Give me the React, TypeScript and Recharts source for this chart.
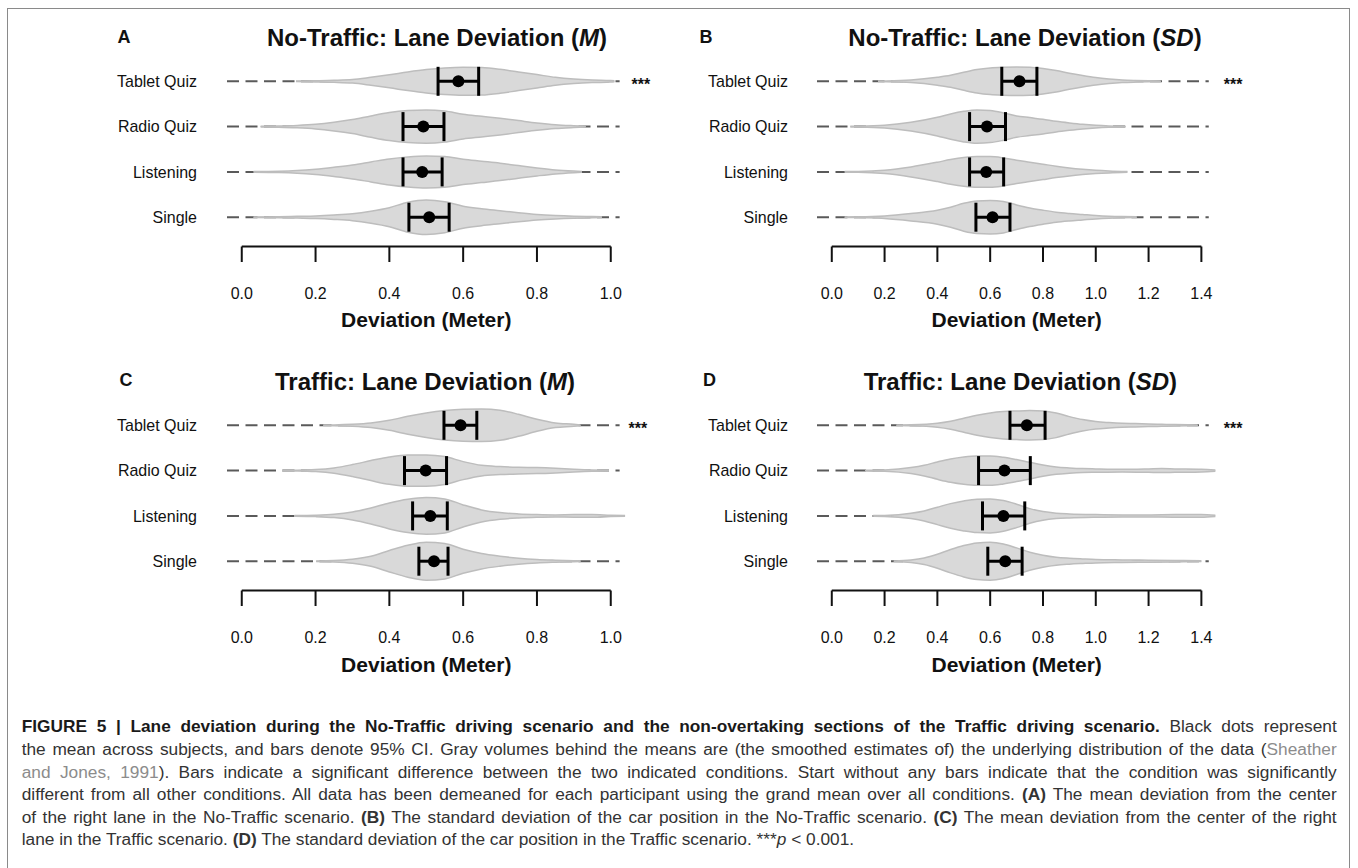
import React from "react";
import { ComposedChart, Area, Scatter, ErrorBar, XAxis, YAxis, ReferenceLine } from "recharts";

const FONT = "'Liberation Sans', Arial, Helvetica, sans-serif";

const ROWS = ["Tablet Quiz", "Radio Quiz", "Listening", "Single"];
const ROW_Y = [4, 3, 2, 1];

const TICKS_M = [0, 0.2, 0.4, 0.6, 0.8, 1.0];
const TICKS_SD = [0, 0.2, 0.4, 0.6, 0.8, 1.0, 1.2, 1.4];

// A: No-Traffic, mean
const A_MEAN = [0.587, 0.492, 0.489, 0.508];
const A_LOW = [0.532, 0.437, 0.437, 0.453];
const A_HIGH = [0.642, 0.548, 0.543, 0.562];
// violins: [deviation, half width]
const A_TABLET = [[0.147, 0.3], [0.2, 0.6], [0.25, 1.0], [0.3, 1.8], [0.35, 4], [0.4, 6.5], [0.45, 9.3], [0.5, 11.7], [0.55, 13.3], [0.6, 14], [0.65, 13.7], [0.7, 12], [0.75, 9.3], [0.8, 6.7], [0.85, 4], [0.9, 2.3], [0.95, 1.3], [1.0, 0.8], [1.01, 0.5]];
const A_RADIO = [[0.051, 0.3], [0.1, 0.6], [0.15, 1.2], [0.2, 2.3], [0.25, 4.3], [0.3, 7], [0.35, 10.7], [0.4, 14], [0.45, 16], [0.5, 16.7], [0.55, 15.5], [0.6, 12.3], [0.65, 10.3], [0.7, 8.3], [0.75, 6], [0.8, 3.7], [0.85, 1.9], [0.9, 0.9], [0.932, 0.4]];
const A_LISTEN = [[0.032, 0.3], [0.1, 0.6], [0.15, 1.3], [0.2, 2.7], [0.25, 4.7], [0.3, 7], [0.35, 10], [0.4, 13], [0.45, 15], [0.5, 16], [0.55, 15.3], [0.6, 12.7], [0.65, 10.7], [0.7, 8.7], [0.75, 6.3], [0.8, 4], [0.85, 2], [0.9, 0.8], [0.922, 0.4]];
const A_SINGLE = [[0.032, 0.3], [0.1, 0.5], [0.15, 0.9], [0.2, 1.3], [0.25, 2.2], [0.3, 3.5], [0.35, 6], [0.4, 9.5], [0.45, 15], [0.5, 17.3], [0.55, 15.5], [0.6, 11], [0.65, 8.5], [0.7, 6.5], [0.75, 4.5], [0.8, 2.8], [0.85, 1.7], [0.9, 1], [0.95, 0.6], [0.976, 0.4]];

// B: No-Traffic, SD
const B_MEAN = [0.711, 0.588, 0.585, 0.609];
const B_LOW = [0.644, 0.522, 0.522, 0.546];
const B_HIGH = [0.777, 0.658, 0.651, 0.675];
const B_TABLET = [[0.175, 0.3], [0.2, 0.4], [0.3, 1.3], [0.4, 4], [0.45, 6], [0.5, 9], [0.55, 11.7], [0.6, 13.3], [0.65, 14], [0.7, 14.3], [0.75, 14], [0.8, 12.7], [0.85, 10.7], [0.9, 8], [0.95, 5.7], [1.0, 3.7], [1.05, 2.3], [1.1, 1.3], [1.15, 0.8], [1.2, 0.5], [1.246, 0.4]];
const B_RADIO = [[0.07, 0.3], [0.1, 0.4], [0.2, 1.3], [0.3, 4.3], [0.4, 9.3], [0.45, 12.7], [0.5, 15.3], [0.55, 16.7], [0.6, 16], [0.65, 13.7], [0.7, 10.7], [0.75, 9], [0.8, 7.3], [0.85, 5.3], [0.9, 3.7], [0.95, 2.3], [1.0, 1.3], [1.05, 0.7], [1.113, 0.4]];
const B_LISTEN = [[0.049, 0.3], [0.1, 0.4], [0.2, 1.7], [0.3, 5], [0.4, 9.7], [0.45, 12.3], [0.5, 14.3], [0.55, 15.3], [0.6, 15.3], [0.65, 14], [0.7, 11.7], [0.75, 9.7], [0.8, 7.7], [0.85, 5.7], [0.9, 4], [0.95, 2.7], [1.0, 1.7], [1.05, 1], [1.12, 0.4]];
const B_SINGLE = [[0.049, 0.3], [0.1, 0.4], [0.2, 1.3], [0.3, 3.7], [0.4, 7], [0.45, 10], [0.5, 14], [0.55, 16.3], [0.6, 16.7], [0.65, 15.7], [0.7, 12.3], [0.75, 9.3], [0.8, 7], [0.85, 5], [0.9, 3.7], [0.95, 2.7], [1.0, 1.7], [1.05, 1], [1.1, 0.6], [1.155, 0.4]];

// C: Traffic, mean
const C_MEAN = [0.593, 0.4985, 0.511, 0.521];
const C_LOW = [0.548, 0.441, 0.463, 0.48];
const C_HIGH = [0.637, 0.555, 0.557, 0.559];
const C_TABLET = [[0.221, 0.3], [0.25, 0.4], [0.3, 1], [0.35, 2.3], [0.4, 5], [0.45, 9], [0.5, 12.3], [0.55, 14.7], [0.6, 16], [0.65, 16.3], [0.7, 15], [0.75, 11], [0.8, 6], [0.85, 2.3], [0.9, 1], [0.918, 0.4]];
const C_RADIO = [[0.109, 0.3], [0.15, 0.4], [0.2, 1], [0.25, 2.7], [0.3, 6], [0.35, 10], [0.4, 13.7], [0.45, 15.7], [0.5, 15.7], [0.55, 14], [0.6, 9], [0.65, 5.3], [0.7, 4], [0.75, 3.3], [0.8, 3], [0.85, 2.3], [0.9, 1.3], [0.95, 0.6], [0.995, 0.4]];
const C_LISTEN = [[0.143, 0.3], [0.2, 0.7], [0.25, 1.7], [0.3, 4], [0.35, 8], [0.4, 13], [0.45, 16.7], [0.5, 18.3], [0.55, 17], [0.6, 11], [0.65, 6], [0.7, 3.3], [0.75, 2], [0.8, 1.3], [0.85, 1], [0.9, 1.3], [0.95, 1.3], [1.0, 0.7], [1.039, 0.4]];
const C_SINGLE = [[0.2015, 0.3], [0.25, 0.7], [0.3, 2], [0.35, 5], [0.4, 10.7], [0.45, 16], [0.5, 19], [0.55, 17.7], [0.6, 12], [0.65, 7.7], [0.7, 5], [0.75, 3], [0.8, 1.7], [0.85, 1], [0.9, 0.5], [0.918, 0.4]];

// D: Traffic, SD
const D_MEAN = [0.739, 0.654, 0.65, 0.657];
const D_LOW = [0.675, 0.556, 0.571, 0.591];
const D_HIGH = [0.808, 0.752, 0.731, 0.721];
const D_TABLET = [[0.245, 0.3], [0.3, 0.5], [0.4, 2], [0.45, 4], [0.5, 7], [0.55, 10], [0.6, 12.3], [0.65, 13.7], [0.7, 14.3], [0.75, 14.7], [0.8, 14.3], [0.85, 12.3], [0.9, 8.7], [0.95, 5.7], [1.0, 3.7], [1.05, 2.7], [1.1, 2], [1.15, 1.7], [1.2, 1.3], [1.25, 1], [1.3, 0.7], [1.35, 0.5], [1.386, 0.4]];
const D_RADIO = [[0.126, 0.3], [0.2, 0.7], [0.3, 3], [0.35, 5.3], [0.4, 8.7], [0.45, 11.7], [0.5, 13.7], [0.55, 14.7], [0.6, 14.7], [0.65, 13.3], [0.7, 11], [0.75, 8.3], [0.8, 5.7], [0.85, 3.7], [0.9, 2.7], [0.95, 2], [1.0, 1.7], [1.1, 1.3], [1.2, 1.7], [1.25, 2], [1.3, 1.7], [1.4, 1.3], [1.453, 0.6]];
const D_LISTEN = [[0.157, 0.3], [0.2, 0.5], [0.3, 2.7], [0.35, 5], [0.4, 8.7], [0.45, 12.3], [0.5, 15], [0.55, 16.7], [0.6, 17], [0.65, 15.3], [0.7, 11.7], [0.75, 7.3], [0.8, 4.3], [0.85, 2.7], [0.9, 2], [1.0, 1.3], [1.1, 1], [1.2, 1], [1.3, 1.3], [1.4, 1.3], [1.453, 0.6]];
const D_SINGLE = [[0.235, 0.3], [0.3, 1.3], [0.35, 3.3], [0.4, 7], [0.45, 11.7], [0.5, 15.7], [0.55, 18.3], [0.6, 19], [0.65, 17.3], [0.7, 13.3], [0.75, 9], [0.8, 6], [0.85, 4], [0.9, 3], [0.95, 2.3], [1.0, 1.7], [1.1, 1.3], [1.2, 1], [1.3, 0.7], [1.4, 0.4]];

// layout
const ROW_PX = 45.3;
const Y_DOMAIN: [number, number] = [0.353, 4.647];
const Y_AXIS_W = 130;
const TOP_PAD = 40;
const RIGHT_PAD = 60;
const X_AXIS_H = 70;

type PanelSpec = {
  x0: number;
  ppu: number;
  domain: [number, number];
  topRow: number;
  ticks: number[];
  dashEnd: number;
  starOffset: number;
  labelGap: number;
  violins: number[][][];
  mean: number[];
  low: number[];
  high: number[];
};

const PANELS: PanelSpec[] = [
  { x0: 241.7, ppu: 369, domain: [-0.04, 1.04], topRow: 81.3, ticks: TICKS_M, dashEnd: 1.024, starOffset: 12, labelGap: 30, violins: [A_TABLET, A_RADIO, A_LISTEN, A_SINGLE], mean: A_MEAN, low: A_LOW, high: A_HIGH },
  { x0: 831.7, ppu: 264, domain: [-0.056, 1.456], topRow: 81.3, ticks: TICKS_SD, dashEnd: 1.428, starOffset: 15, labelGap: 29, violins: [B_TABLET, B_RADIO, B_LISTEN, B_SINGLE], mean: B_MEAN, low: B_LOW, high: B_HIGH },
  { x0: 241.7, ppu: 369, domain: [-0.04, 1.04], topRow: 425.8, ticks: TICKS_M, dashEnd: 1.024, starOffset: 9, labelGap: 30, violins: [C_TABLET, C_RADIO, C_LISTEN, C_SINGLE], mean: C_MEAN, low: C_LOW, high: C_HIGH },
  { x0: 831.7, ppu: 264, domain: [-0.056, 1.456], topRow: 425.8, ticks: TICKS_SD, dashEnd: 1.428, starOffset: 15, labelGap: 29, violins: [D_TABLET, D_RADIO, D_LISTEN, D_SINGLE], mean: D_MEAN, low: D_LOW, high: D_HIGH },
];

function buildTable(violins: number[][][]) {
  const rows = new Map<number, any>();
  violins.forEach((v, i) =>
    v.forEach(([x, w]) => {
      const r = rows.get(x) ?? { x };
      const hw = w / ROW_PX;
      r["v" + i] = [ROW_Y[i] - hw, ROW_Y[i] + hw];
      rows.set(x, r);
    })
  );
  return [...rows.values()].sort((a, b) => a.x - b.x);
}

const AxisTick = (props: any) => {
  const { x, y, payload } = props;
  return (
    <g>
      <line x1={x} x2={x} y1={y} y2={y + 15.5} stroke="#111" strokeWidth={2} />
      <text x={x} y={y + 52} textAnchor="middle" fontSize={16} fontFamily={FONT} fill="#111">
        {Number(payload.value).toFixed(1)}
      </text>
    </g>
  );
};

const Stars = (offset: number) => (props: any) => {
  const vb = props.viewBox || {};
  return (
    <text x={vb.x + vb.width + offset} y={vb.y + 9} fontSize={16} fontWeight={700} fontFamily={FONT} fill="#111">
      ***
    </text>
  );
};

const Dot = (props: any) => <circle cx={props.cx} cy={props.cy} r={6} fill="#000" />;

function Panel({ spec }: { spec: PanelSpec }) {
  const [d0, d1] = spec.domain;
  const plotLeft = spec.x0 + d0 * spec.ppu;
  const plotW = (d1 - d0) * spec.ppu;
  const plotTop = spec.topRow - (Y_DOMAIN[1] - 4) * ROW_PX;
  const plotH = (Y_DOMAIN[1] - Y_DOMAIN[0]) * ROW_PX;
  const table = buildTable(spec.violins);
  const means = ROW_Y.map((y, i) => ({
    x: spec.mean[i],
    y,
    ci: [spec.mean[i] - spec.low[i], spec.high[i] - spec.mean[i]],
  }));
  const lastTick = spec.ticks[spec.ticks.length - 1];

  return (
    <div style={{ position: "absolute", left: plotLeft - Y_AXIS_W, top: plotTop - TOP_PAD }}>
      <ComposedChart
        width={Y_AXIS_W + plotW + RIGHT_PAD}
        height={TOP_PAD + plotH + X_AXIS_H}
        data={table}
        margin={{ top: TOP_PAD, right: RIGHT_PAD, bottom: 0, left: 0 }}
      >
        <XAxis
          type="number"
          dataKey="x"
          domain={spec.domain}
          ticks={spec.ticks}
          interval={0}
          allowDataOverflow
          axisLine={false}
          tickLine={false}
          tickSize={0}
          tickMargin={0}
          height={X_AXIS_H}
          tick={AxisTick}
        />
        <YAxis
          type="number"
          domain={Y_DOMAIN}
          ticks={ROW_Y}
          interval={0}
          allowDataOverflow
          axisLine={false}
          tickLine={false}
          tickSize={0}
          tickMargin={spec.labelGap}
          width={Y_AXIS_W}
          tickFormatter={(v: number) => ROWS[4 - v]}
          tick={{ fontSize: 16, fill: "#111", fontFamily: FONT }}
        />
        {ROW_Y.map((y, i) => (
          <ReferenceLine
            key={"dash" + i}
            segment={[{ x: d0, y }, { x: spec.dashEnd, y }]}
            stroke="#5a5a5a"
            strokeWidth={2}
            strokeDasharray="12 6.5"
            ifOverflow="visible"
            zIndex={10}
            label={i === 0 ? Stars(spec.starOffset) : undefined}
          />
        ))}
        {spec.violins.map((_, i) => (
          <Area
            key={"v" + i}
            dataKey={"v" + i}
            type="monotone"
            fill="#d9d9d9"
            fillOpacity={1}
            stroke="#bdbdbd"
            strokeWidth={1.5}
            connectNulls
            dot={false}
            activeDot={false}
            zIndex={100}
            isAnimationActive={false}
          />
        ))}
        <ReferenceLine
          segment={[{ x: 0, y: Y_DOMAIN[0] }, { x: lastTick, y: Y_DOMAIN[0] }]}
          stroke="#111"
          strokeWidth={2}
          ifOverflow="visible"
          zIndex={500}
        />
        <Scatter data={means} dataKey="y" shape={Dot} zIndex={600} isAnimationActive={false}>
          <ErrorBar dataKey="ci" direction="x" width={14.5} strokeWidth={3} stroke="#000" isAnimationActive={false} />
        </Scatter>
      </ComposedChart>
    </div>
  );
}

function Text({ cx, cy, size, children }: { cx: number; cy: number; size: number; children: React.ReactNode }) {
  return (
    <div
      style={{
        position: "absolute",
        left: cx - 300,
        width: 600,
        top: cy - 20,
        height: 40,
        lineHeight: "40px",
        textAlign: "center",
        fontSize: size,
        fontWeight: 700,
        fontFamily: FONT,
        color: "#111",
        whiteSpace: "nowrap",
      }}
    >
      {children}
    </div>
  );
}

const GRAY = { color: "#8c8c8c" };

function CaptionLine({ i, last, children }: { i: number; last?: boolean; children: React.ReactNode }) {
  return (
    <div
      style={{
        position: "absolute",
        left: 21.7,
        width: 1315,
        top: 726.7 + i * 22.6 - 11.3,
        height: 22.6,
        lineHeight: "22.6px",
        fontSize: 17.3,
        fontFamily: FONT,
        color: "#333",
        whiteSpace: "nowrap",
        textAlign: "left",
        textAlignLast: last ? "left" : "justify",
      }}
    >
      {children}
    </div>
  );
}

export default function App() {
  return (
    <div style={{ position: "absolute", left: 0, top: 0, width: 1358, height: 868, overflow: "hidden", background: "#fff" }}>
      <div
        style={{
          position: "absolute",
          left: 7,
          top: 7.5,
          width: 1343,
          height: 900,
          borderTop: "1.5px solid #8a8a8a",
          borderLeft: "1.5px solid #8a8a8a",
          borderRight: "1.5px solid #8a8a8a",
          boxSizing: "border-box",
        }}
      />
      {PANELS.map((p, i) => (
        <Panel key={i} spec={p} />
      ))}

      <Text cx={124} cy={36.7} size={18}>A</Text>
      <Text cx={706} cy={36.7} size={18}>B</Text>
      <Text cx={126} cy={380} size={18}>C</Text>
      <Text cx={709.6} cy={380} size={18}>D</Text>

      <Text cx={437} cy={38.3} size={24}>No-Traffic: Lane Deviation (<i>M</i>)</Text>
      <Text cx={1025} cy={38.3} size={24}>No-Traffic: Lane Deviation (<i>SD</i>)</Text>
      <Text cx={425} cy={381.7} size={24}>Traffic: Lane Deviation (<i>M</i>)</Text>
      <Text cx={1020.4} cy={381.7} size={24}>Traffic: Lane Deviation (<i>SD</i>)</Text>

      <Text cx={426.3} cy={320} size={21}>Deviation (Meter)</Text>
      <Text cx={1016.7} cy={320} size={21}>Deviation (Meter)</Text>
      <Text cx={426.3} cy={664.5} size={21}>Deviation (Meter)</Text>
      <Text cx={1016.7} cy={664.5} size={21}>Deviation (Meter)</Text>

      <CaptionLine i={0}>
        <b style={{ color: "#1a1a1a" }}>
          FIGURE 5 | Lane deviation during the No-Traffic driving scenario and the non-overtaking sections of the Traffic driving scenario.
        </b>{" "}
        Black dots represent
      </CaptionLine>
      <CaptionLine i={1}>
        the mean across subjects, and bars denote 95% CI. Gray volumes behind the means are (the smoothed estimates of) the underlying distribution of the data (<span style={GRAY}>Sheather</span>
      </CaptionLine>
      <CaptionLine i={2}>
        <span style={GRAY}>and Jones, 1991</span>). Bars indicate a significant difference between the two indicated conditions. Start without any bars indicate that the condition was significantly
      </CaptionLine>
      <CaptionLine i={3}>
        different from all other conditions. All data has been demeaned for each participant using the grand mean over all conditions. <b>(A)</b> The mean deviation from the center
      </CaptionLine>
      <CaptionLine i={4}>
        of the right lane in the No-Traffic scenario. <b>(B)</b> The standard deviation of the car position in the No-Traffic scenario. <b>(C)</b> The mean deviation from the center of the right
      </CaptionLine>
      <CaptionLine i={5} last>
        lane in the Traffic scenario. <b>(D)</b> The standard deviation of the car position in the Traffic scenario. ***<i>p</i> &lt; 0.001.
      </CaptionLine>
    </div>
  );
}
